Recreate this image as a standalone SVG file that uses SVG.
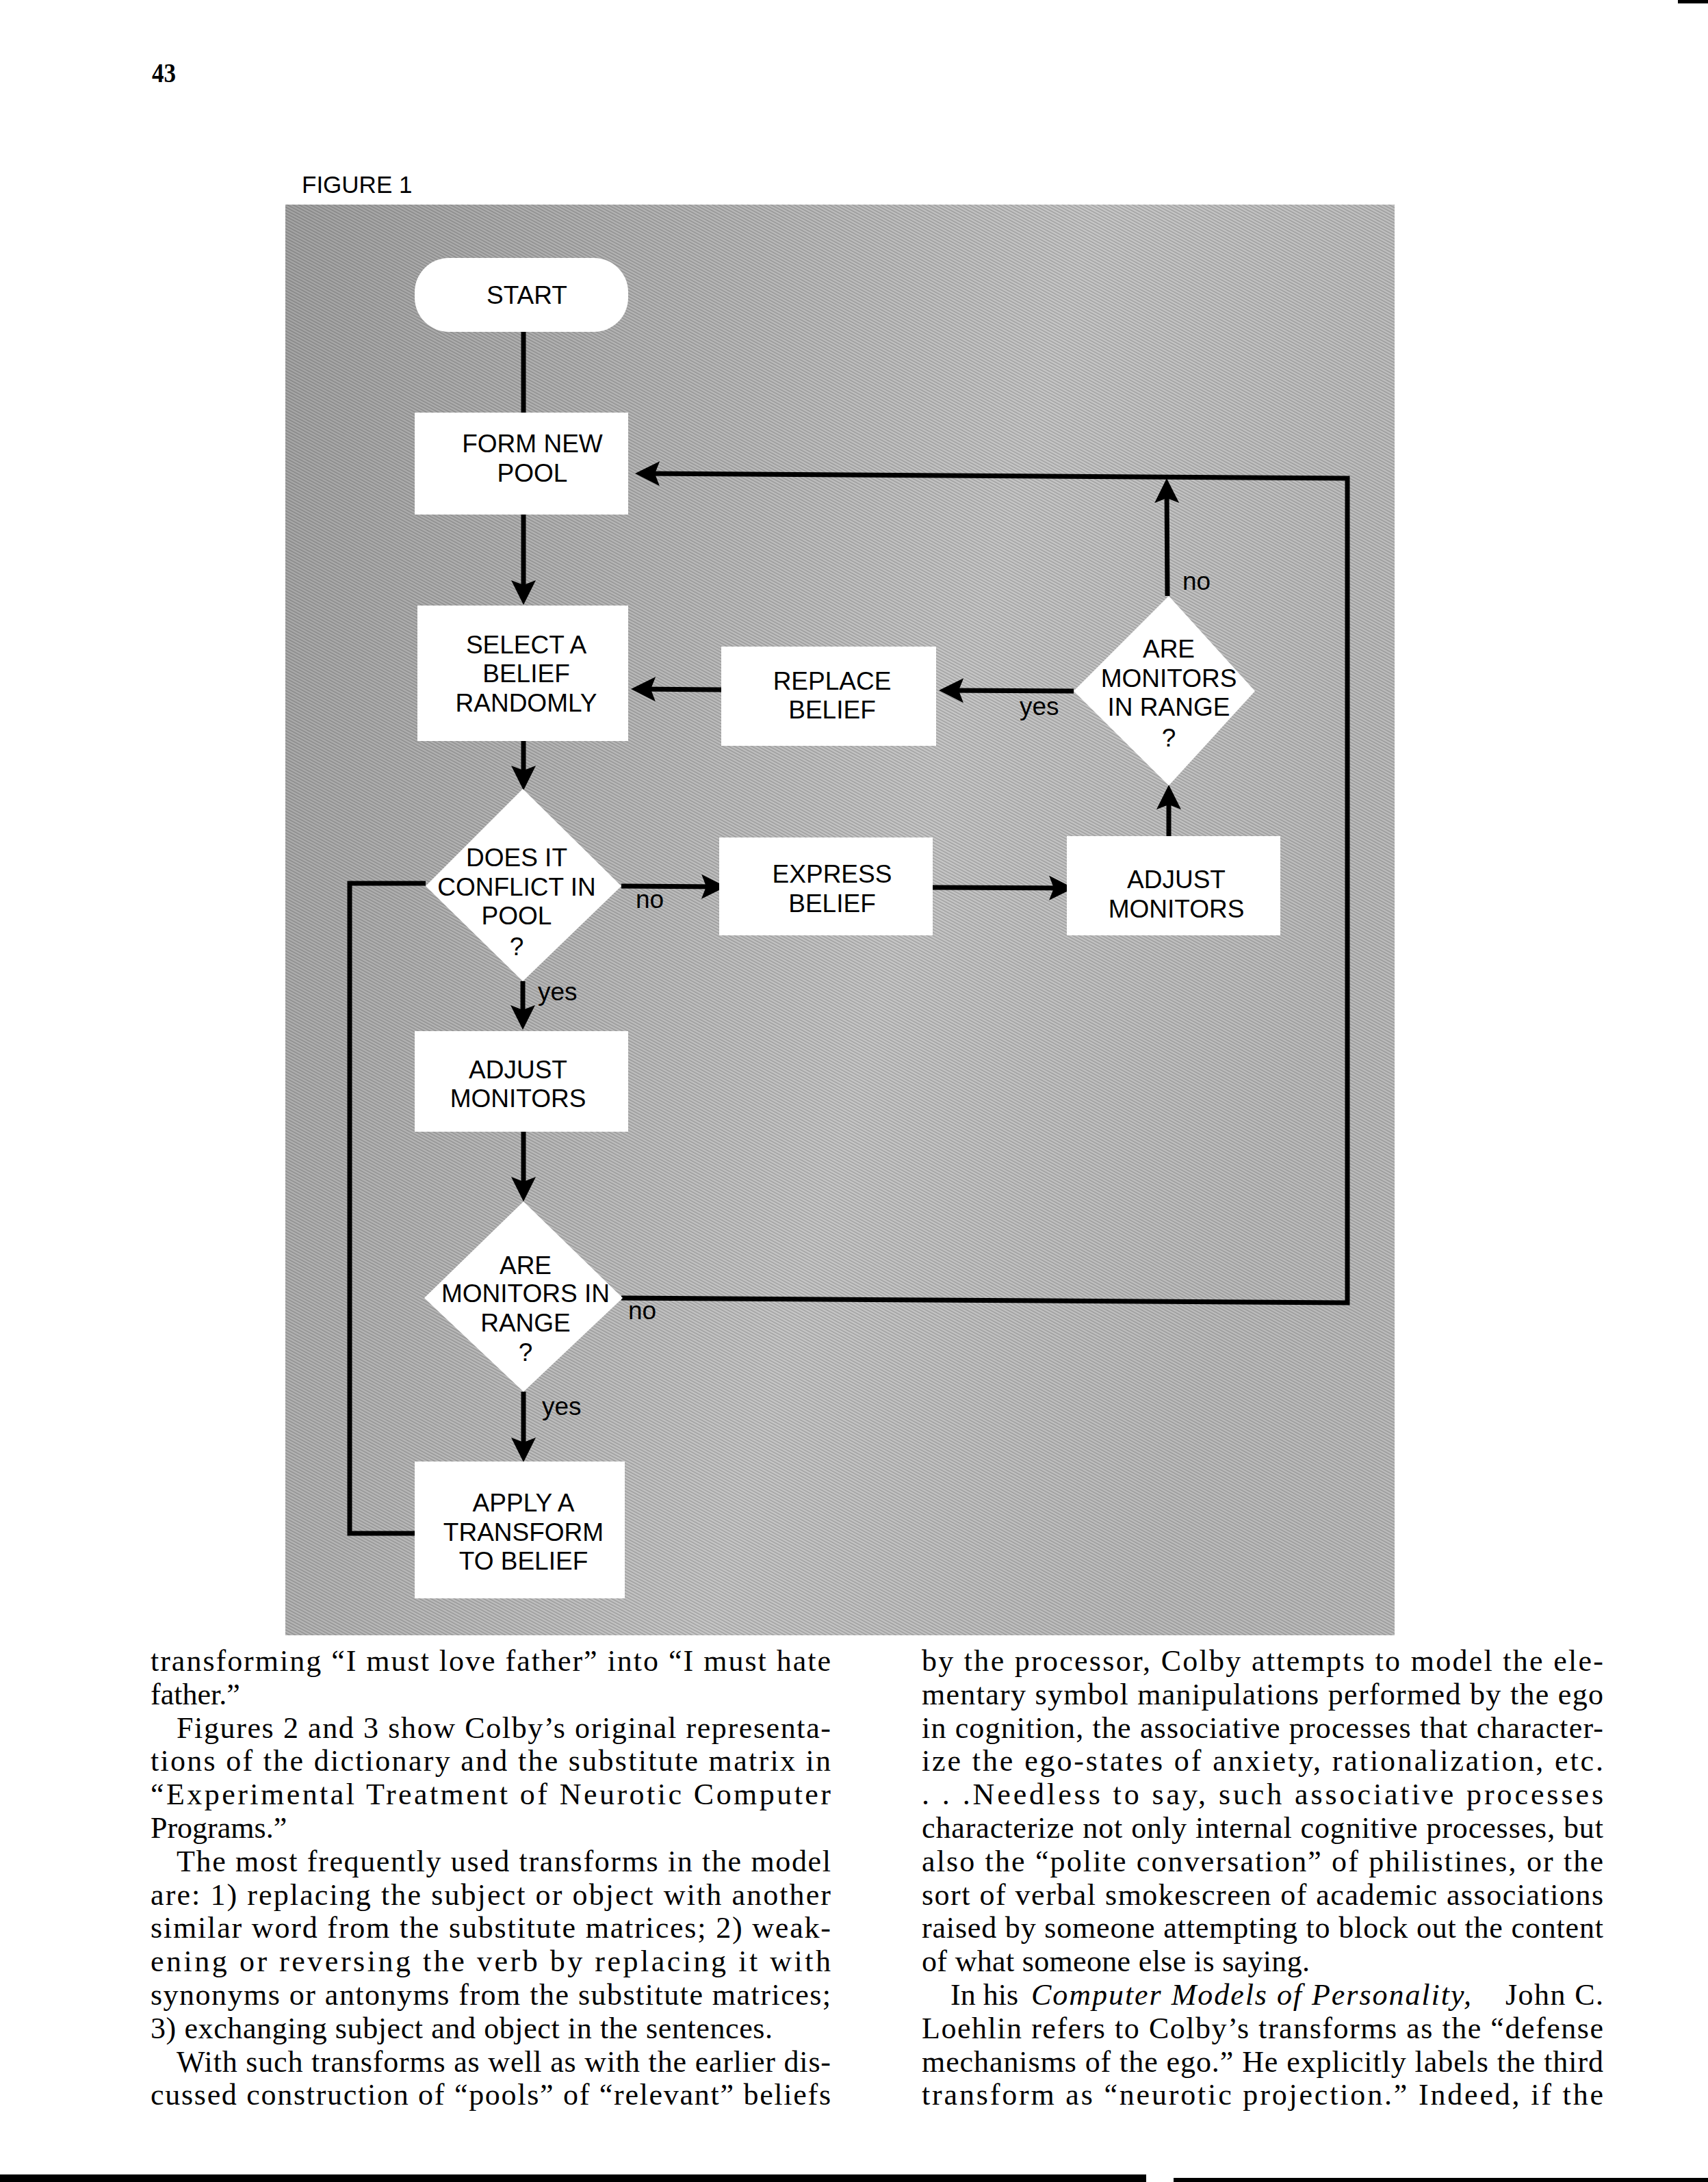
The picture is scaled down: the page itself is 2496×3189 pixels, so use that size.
<svg xmlns="http://www.w3.org/2000/svg" width="2496" height="3189" viewBox="0 0 2496 3189">
<style>
.node{fill:#ffffff;stroke:none}
.lbl{font-family:"Liberation Sans",Arial,sans-serif;font-size:37px;fill:#000;text-anchor:middle}
.yn{font-family:"Liberation Sans",Arial,sans-serif;font-size:37px;fill:#000}
.con{fill:none;stroke:#000;stroke-width:7;stroke-linejoin:miter}
.body{font-family:"Liberation Serif","Times New Roman",serif;font-size:44px;fill:#000}
</style>
<defs>
<marker id="arr" viewBox="0 -20 40 40" refX="26" refY="0" markerWidth="40" markerHeight="40" markerUnits="userSpaceOnUse" orient="auto">
<path d="M0,-18 L36,0 L0,18 L7,0 Z" fill="#000"/>
</marker>
<linearGradient id="bg" x1="0" y1="0" x2="1" y2="0.35">
<stop offset="0" stop-color="#a4a4a4"/>
<stop offset="0.65" stop-color="#c8c8c8"/>
<stop offset="1" stop-color="#bdbdbd"/>
</linearGradient>
<pattern id="ht" width="4" height="4" patternUnits="userSpaceOnUse" patternTransform="rotate(-62)">
<rect x="0" y="0" width="1.4" height="4" fill="#000" opacity="0.22"/>
</pattern>
</defs>
<rect x="0" y="0" width="2496" height="3189" fill="#ffffff"/>
<rect x="2452" y="0" width="44" height="5" fill="#000"/>
<text x="222" y="120" font-family="'Liberation Serif','Times New Roman',serif" font-weight="bold" font-size="41" textLength="35" lengthAdjust="spacingAndGlyphs">43</text>
<text x="441" y="282" font-family="'Liberation Sans',Arial,sans-serif" font-size="35">FIGURE 1</text>
<g id="panel">
<rect x="417" y="299" width="1621" height="2091" fill="url(#bg)"/>
<rect x="417" y="299" width="1621" height="2091" fill="url(#ht)"/>
</g>
<g id="connectors">
<line class="con" x1="765" y1="485" x2="765" y2="603"/>
<line class="con" x1="765" y1="752" x2="765" y2="874" marker-end="url(#arr)"/>
<line class="con" x1="765" y1="1083" x2="765" y2="1145" marker-end="url(#arr)"/>
<line class="con" x1="764" y1="1434" x2="764" y2="1495" marker-end="url(#arr)"/>
<line class="con" x1="765" y1="1654" x2="765" y2="1746" marker-end="url(#arr)"/>
<line class="con" x1="765" y1="2034" x2="765" y2="2127" marker-end="url(#arr)"/>
<polyline class="con" points="606,2241 511,2241 511,1291 622,1291"/>
<line class="con" x1="908" y1="1295" x2="1051" y2="1296" marker-end="url(#arr)"/>
<line class="con" x1="1363" y1="1297" x2="1559" y2="1298" marker-end="url(#arr)"/>
<line class="con" x1="1708" y1="1222" x2="1708" y2="1157" marker-end="url(#arr)"/>
<line class="con" x1="1569" y1="1010" x2="1382" y2="1009" marker-end="url(#arr)"/>
<line class="con" x1="1054" y1="1008" x2="932" y2="1007" marker-end="url(#arr)"/>
<line class="con" x1="1706" y1="871" x2="1705" y2="709" marker-end="url(#arr)"/>
<polyline class="con" points="908,1897 1969,1904 1969,699 938,692" marker-end="url(#arr)"/>
<text class="yn" x="1728" y="862">no</text>
<text class="yn" x="1490" y="1045">yes</text>
<text class="yn" x="929" y="1327">no</text>
<text class="yn" x="786" y="1462">yes</text>
<text class="yn" x="918" y="1928">no</text>
<text class="yn" x="792" y="2068">yes</text>
</g>
<g id="start">
<rect class="node" x="606" y="377" width="312" height="108" rx="50" ry="50"/>
<text class="lbl" x="770" y="444">START</text>
</g>
<g id="form-new-pool">
<rect class="node" x="606" y="603" width="312" height="149"/>
<text class="lbl" x="778" y="661">FORM NEW</text>
<text class="lbl" x="778" y="704">POOL</text>
</g>
<g id="select-belief">
<rect class="node" x="610" y="885" width="308" height="198"/>
<text class="lbl" x="769" y="955">SELECT A</text>
<text class="lbl" x="769" y="997">BELIEF</text>
<text class="lbl" x="769" y="1040">RANDOMLY</text>
</g>
<g id="replace-belief">
<rect class="node" x="1054" y="945" width="314" height="145"/>
<text class="lbl" x="1216" y="1008">REPLACE</text>
<text class="lbl" x="1216" y="1050">BELIEF</text>
</g>
<g id="are-monitors-right">
<polygon class="node" points="1708,871 1834,1010 1708,1148 1569,1010"/>
<text class="lbl" x="1708" y="961">ARE</text>
<text class="lbl" x="1708" y="1004">MONITORS</text>
<text class="lbl" x="1708" y="1046">IN RANGE</text>
<text class="lbl" x="1708" y="1091">?</text>
</g>
<g id="does-it-conflict">
<polygon class="node" points="764,1153 908,1295 764,1434 622,1295"/>
<text class="lbl" x="755" y="1266">DOES IT</text>
<text class="lbl" x="755" y="1309">CONFLICT IN</text>
<text class="lbl" x="755" y="1351">POOL</text>
<text class="lbl" x="755" y="1396">?</text>
</g>
<g id="express-belief">
<rect class="node" x="1051" y="1224" width="312" height="143"/>
<text class="lbl" x="1216" y="1290">EXPRESS</text>
<text class="lbl" x="1216" y="1333">BELIEF</text>
</g>
<g id="adjust-monitors-right">
<rect class="node" x="1559" y="1222" width="312" height="145"/>
<text class="lbl" x="1719" y="1298">ADJUST</text>
<text class="lbl" x="1719" y="1341">MONITORS</text>
</g>
<g id="adjust-monitors-left">
<rect class="node" x="606" y="1507" width="312" height="147"/>
<text class="lbl" x="757" y="1576">ADJUST</text>
<text class="lbl" x="757" y="1618">MONITORS</text>
</g>
<g id="are-monitors-left">
<polygon class="node" points="765,1756 910,1897 765,2034 620,1897"/>
<text class="lbl" x="768" y="1862">ARE</text>
<text class="lbl" x="768" y="1903">MONITORS IN</text>
<text class="lbl" x="768" y="1946">RANGE</text>
<text class="lbl" x="768" y="1989">?</text>
</g>
<g id="apply-transform">
<rect class="node" x="606" y="2136" width="307" height="200"/>
<text class="lbl" x="765" y="2209">APPLY A</text>
<text class="lbl" x="765" y="2252">TRANSFORM</text>
<text class="lbl" x="765" y="2294">TO BELIEF</text>
</g>
<g id="body-text">
<text class="body" x="220" y="2442" textLength="994" lengthAdjust="spacing">transforming “I must love father” into “I must hate</text>
<text class="body" x="220" y="2491">father.”</text>
<text class="body" x="258" y="2540" textLength="956" lengthAdjust="spacing">Figures 2 and 3 show Colby’s original representa-</text>
<text class="body" x="220" y="2588" textLength="994" lengthAdjust="spacing">tions of the dictionary and the substitute matrix in</text>
<text class="body" x="220" y="2637" textLength="994" lengthAdjust="spacing">“Experimental Treatment of Neurotic Computer</text>
<text class="body" x="220" y="2686">Programs.”</text>
<text class="body" x="258" y="2735" textLength="956" lengthAdjust="spacing">The most frequently used transforms in the model</text>
<text class="body" x="220" y="2784" textLength="994" lengthAdjust="spacing">are: 1) replacing the subject or object with another</text>
<text class="body" x="220" y="2832" textLength="994" lengthAdjust="spacing">similar word from the substitute matrices; 2) weak-</text>
<text class="body" x="220" y="2881" textLength="994" lengthAdjust="spacing">ening or reversing the verb by replacing it with</text>
<text class="body" x="220" y="2930" textLength="994" lengthAdjust="spacing">synonyms or antonyms from the substitute matrices;</text>
<text class="body" x="220" y="2979" textLength="909" lengthAdjust="spacing">3) exchanging subject and object in the sentences.</text>
<text class="body" x="258" y="3028" textLength="956" lengthAdjust="spacing">With such transforms as well as with the earlier dis-</text>
<text class="body" x="220" y="3076" textLength="994" lengthAdjust="spacing">cussed construction of “pools” of “relevant” beliefs</text>
<text class="body" x="1347" y="2442" textLength="996" lengthAdjust="spacing">by the processor, Colby attempts to model the ele-</text>
<text class="body" x="1347" y="2491" textLength="996" lengthAdjust="spacing">mentary symbol manipulations performed by the ego</text>
<text class="body" x="1347" y="2540" textLength="996" lengthAdjust="spacing">in cognition, the associative processes that character-</text>
<text class="body" x="1347" y="2588" textLength="996" lengthAdjust="spacing">ize the ego-states of anxiety, rationalization, etc.</text>
<text class="body" x="1347" y="2637" textLength="996" lengthAdjust="spacing">. . .Needless to say, such associative processes</text>
<text class="body" x="1347" y="2686" textLength="996" lengthAdjust="spacing">characterize not only internal cognitive processes, but</text>
<text class="body" x="1347" y="2735" textLength="996" lengthAdjust="spacing">also the “polite conversation” of philistines, or the</text>
<text class="body" x="1347" y="2784" textLength="996" lengthAdjust="spacing">sort of verbal smokescreen of academic associations</text>
<text class="body" x="1347" y="2832" textLength="996" lengthAdjust="spacing">raised by someone attempting to block out the content</text>
<text class="body" x="1347" y="2881" textLength="567" lengthAdjust="spacing">of what someone else is saying.</text>
<text class="body" x="1389" y="2930">In his</text>
<text class="body" x="1507" y="2930" textLength="643" lengthAdjust="spacing" font-style="italic">Computer Models of Personality,</text>
<text class="body" x="2200" y="2930" textLength="143" lengthAdjust="spacing">John C.</text>
<text class="body" x="1347" y="2979" textLength="996" lengthAdjust="spacing">Loehlin refers to Colby’s transforms as the “defense</text>
<text class="body" x="1347" y="3028" textLength="996" lengthAdjust="spacing">mechanisms of the ego.” He explicitly labels the third</text>
<text class="body" x="1347" y="3076" textLength="996" lengthAdjust="spacing">transform as “neurotic projection.” Indeed, if the</text>
</g>
<rect x="0" y="3178" width="1675" height="11" fill="#000"/>
<rect x="1715" y="3183" width="781" height="6" fill="#000"/>
</svg>
